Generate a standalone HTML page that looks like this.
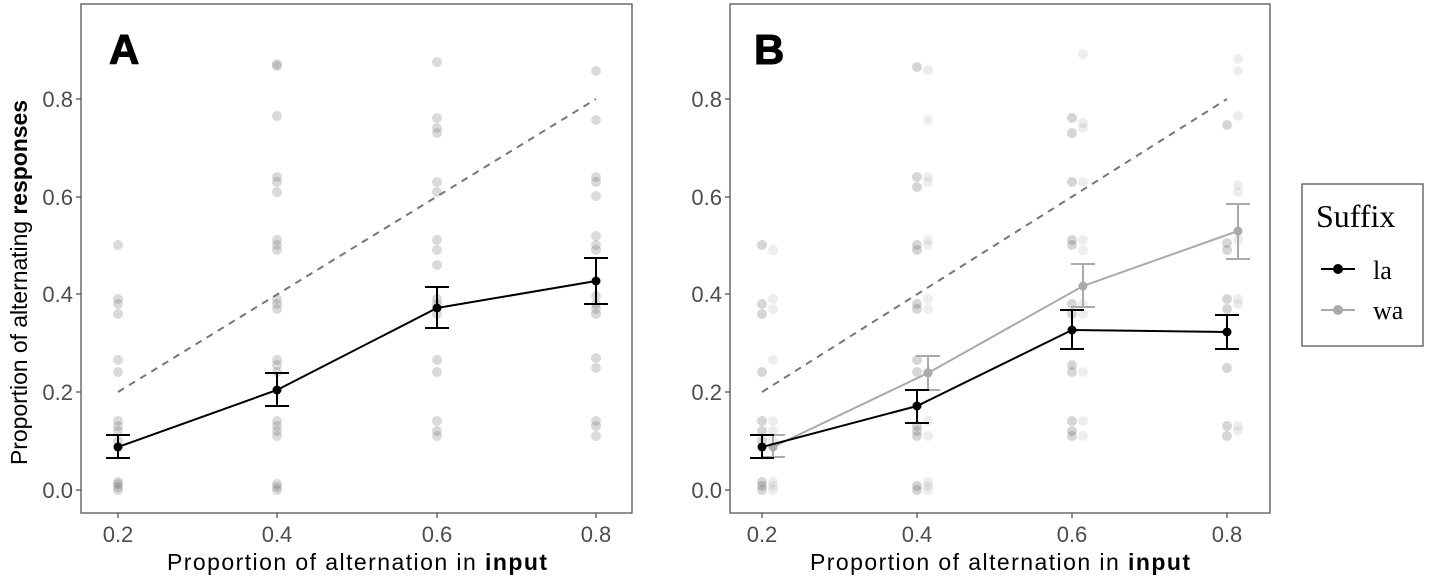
<!DOCTYPE html>
<html><head><meta charset="utf-8"><style>
body{margin:0;background:#fff;}
svg{display:block;font-family:"Liberation Sans",sans-serif;}
</style></head><body>
<svg width="1430" height="579" viewBox="0 0 1430 579" xmlns="http://www.w3.org/2000/svg">
<rect width="1430" height="579" fill="#fff"/>
<!-- Panel A -->
<rect x="81" y="4" width="551" height="509" fill="none" stroke="#555" stroke-width="1.3"/>
<g stroke="#555" stroke-width="1.3">
<line x1="76" y1="490" x2="81" y2="490"/><line x1="76" y1="392" x2="81" y2="392"/><line x1="76" y1="294" x2="81" y2="294"/><line x1="76" y1="197" x2="81" y2="197"/><line x1="76" y1="99" x2="81" y2="99"/>
<line x1="118" y1="513" x2="118" y2="518"/><line x1="277" y1="513" x2="277" y2="518"/><line x1="437" y1="513" x2="437" y2="518"/><line x1="596" y1="513" x2="596" y2="518"/>
</g>
<g font-size="22" fill="#4d4d4d" text-anchor="end">
<text x="73" y="498">0.0</text><text x="73" y="400">0.2</text><text x="73" y="302">0.4</text><text x="73" y="205">0.6</text><text x="73" y="107">0.8</text>
</g>
<g font-size="22" fill="#4d4d4d" text-anchor="middle">
<text x="118" y="542">0.2</text><text x="277" y="542">0.4</text><text x="437" y="542">0.6</text><text x="596" y="542">0.8</text>
</g>
<text x="167" y="570" font-size="23" fill="#000" textLength="380" lengthAdjust="spacing">Proportion of alternation in   <tspan font-weight="bold">input</tspan></text>
<text transform="translate(27,465) rotate(-90)" font-size="23" fill="#000" textLength="365" lengthAdjust="spacing">Proportion of alternating <tspan font-weight="bold">responses</tspan></text>
<text x="109" y="64" font-size="42" font-weight="bold" fill="#000" stroke="#000" stroke-width="1">A</text>
<g fill="#555" fill-opacity="0.22">
<circle cx="118" cy="490" r="5"/><circle cx="118" cy="487" r="5"/><circle cx="118" cy="484" r="5"/><circle cx="118" cy="482" r="5"/>
<circle cx="118" cy="441" r="5"/><circle cx="118" cy="431" r="5"/><circle cx="118" cy="426" r="5"/><circle cx="118" cy="421" r="5"/>
<circle cx="118" cy="372" r="5"/><circle cx="118" cy="360" r="5"/><circle cx="118" cy="314" r="5"/><circle cx="118" cy="304" r="5"/><circle cx="118" cy="299" r="5"/><circle cx="118" cy="245" r="5"/>
<circle cx="277" cy="490" r="5"/><circle cx="277" cy="487" r="5"/><circle cx="277" cy="484" r="5"/><circle cx="277" cy="436" r="5"/><circle cx="277" cy="431" r="5"/><circle cx="277" cy="426" r="5"/><circle cx="277" cy="421" r="5"/>
<circle cx="277" cy="372" r="5"/><circle cx="277" cy="365" r="5"/><circle cx="277" cy="360" r="5"/><circle cx="277" cy="309" r="5"/><circle cx="277" cy="304" r="5"/><circle cx="277" cy="299" r="5"/>
<circle cx="277" cy="250" r="5"/><circle cx="277" cy="245" r="5"/><circle cx="277" cy="240" r="5"/><circle cx="277" cy="192" r="5"/><circle cx="277" cy="182" r="5"/><circle cx="277" cy="177" r="5"/><circle cx="277" cy="116" r="5"/><circle cx="277" cy="66" r="5"/><circle cx="277" cy="64" r="5"/>
<circle cx="437" cy="436" r="5"/><circle cx="437" cy="431" r="5"/><circle cx="437" cy="421" r="5"/><circle cx="437" cy="372" r="5"/><circle cx="437" cy="360" r="5"/>
<circle cx="437" cy="314" r="5"/><circle cx="437" cy="304" r="5"/><circle cx="437" cy="299" r="5"/><circle cx="437" cy="265" r="5"/><circle cx="437" cy="250" r="5"/><circle cx="437" cy="240" r="5"/>
<circle cx="437" cy="192" r="5"/><circle cx="437" cy="182" r="5"/><circle cx="437" cy="133" r="5"/><circle cx="437" cy="128" r="5"/><circle cx="437" cy="118" r="5"/><circle cx="437" cy="62" r="5"/>
<circle cx="596" cy="436" r="5"/><circle cx="596" cy="426" r="5"/><circle cx="596" cy="421" r="5"/><circle cx="596" cy="368" r="5"/><circle cx="596" cy="358" r="5"/>
<circle cx="596" cy="314" r="5"/><circle cx="596" cy="309" r="5"/><circle cx="596" cy="304" r="5"/><circle cx="596" cy="296" r="5"/><circle cx="596" cy="250" r="5"/><circle cx="596" cy="245" r="5"/><circle cx="596" cy="236" r="5"/>
<circle cx="596" cy="196" r="5"/><circle cx="596" cy="182" r="5"/><circle cx="596" cy="177" r="5"/><circle cx="596" cy="120" r="5"/><circle cx="596" cy="71" r="5"/>
</g>
<line x1="118" y1="392" x2="596" y2="99" stroke="#777" stroke-width="2" stroke-dasharray="7,6"/>
<g stroke="#000" stroke-width="2" fill="none">
<polyline points="118,447 277,390 437,308 596,281"/>
<line x1="118" y1="458" x2="118" y2="435"/><line x1="106" y1="458" x2="130" y2="458"/><line x1="106" y1="435" x2="130" y2="435"/>
<line x1="277" y1="406" x2="277" y2="373"/><line x1="265" y1="406" x2="289" y2="406"/><line x1="265" y1="373" x2="289" y2="373"/>
<line x1="437" y1="328" x2="437" y2="287"/><line x1="425" y1="328" x2="449" y2="328"/><line x1="425" y1="287" x2="449" y2="287"/>
<line x1="596" y1="304" x2="596" y2="258"/><line x1="584" y1="304" x2="608" y2="304"/><line x1="584" y1="258" x2="608" y2="258"/>
</g>
<g fill="#000"><circle cx="118" cy="447" r="4.5"/><circle cx="277" cy="390" r="4.5"/><circle cx="437" cy="308" r="4.5"/><circle cx="596" cy="281" r="4.5"/></g>

<!-- Panel B -->
<rect x="730" y="4" width="540" height="509" fill="none" stroke="#555" stroke-width="1.3"/>
<g stroke="#555" stroke-width="1.3">
<line x1="725" y1="490" x2="730" y2="490"/><line x1="725" y1="392" x2="730" y2="392"/><line x1="725" y1="294" x2="730" y2="294"/><line x1="725" y1="197" x2="730" y2="197"/><line x1="725" y1="99" x2="730" y2="99"/>
<line x1="762" y1="513" x2="762" y2="518"/><line x1="917" y1="513" x2="917" y2="518"/><line x1="1072" y1="513" x2="1072" y2="518"/><line x1="1227" y1="513" x2="1227" y2="518"/>
</g>
<g font-size="22" fill="#4d4d4d" text-anchor="end">
<text x="722" y="498">0.0</text><text x="722" y="400">0.2</text><text x="722" y="302">0.4</text><text x="722" y="205">0.6</text><text x="722" y="107">0.8</text>
</g>
<g font-size="22" fill="#4d4d4d" text-anchor="middle">
<text x="762" y="542">0.2</text><text x="917" y="542">0.4</text><text x="1072" y="542">0.6</text><text x="1227" y="542">0.8</text>
</g>
<text x="810" y="570" font-size="23" fill="#000" textLength="380" lengthAdjust="spacing">Proportion of alternation in   <tspan font-weight="bold">input</tspan></text>
<text x="754" y="64" font-size="42" font-weight="bold" fill="#000" stroke="#000" stroke-width="1">B</text>
<g fill="#333" fill-opacity="0.2">
<circle cx="762" cy="490" r="5"/><circle cx="762" cy="486" r="5"/><circle cx="762" cy="482" r="5"/><circle cx="762" cy="441" r="5"/><circle cx="762" cy="431" r="5"/><circle cx="762" cy="421" r="5"/>
<circle cx="762" cy="372" r="5"/><circle cx="762" cy="314" r="5"/><circle cx="762" cy="304" r="5"/><circle cx="762" cy="245" r="5"/>
<circle cx="917" cy="490" r="5"/><circle cx="917" cy="486" r="5"/><circle cx="917" cy="436" r="5"/><circle cx="917" cy="431" r="5"/><circle cx="917" cy="426" r="5"/>
<circle cx="917" cy="372" r="5"/><circle cx="917" cy="360" r="5"/><circle cx="917" cy="309" r="5"/><circle cx="917" cy="304" r="5"/><circle cx="917" cy="250" r="5"/><circle cx="917" cy="245" r="5"/><circle cx="917" cy="187" r="5"/><circle cx="917" cy="177" r="5"/><circle cx="917" cy="67" r="5"/>
<circle cx="1072" cy="436" r="5"/><circle cx="1072" cy="431" r="5"/><circle cx="1072" cy="421" r="5"/><circle cx="1072" cy="372" r="5"/><circle cx="1072" cy="365" r="5"/><circle cx="1072" cy="314" r="5"/><circle cx="1072" cy="304" r="5"/><circle cx="1072" cy="245" r="5"/><circle cx="1072" cy="240" r="5"/><circle cx="1072" cy="182" r="5"/><circle cx="1072" cy="133" r="5"/><circle cx="1072" cy="118" r="5"/>
<circle cx="1227" cy="436" r="5"/><circle cx="1227" cy="426" r="5"/><circle cx="1227" cy="368" r="5"/><circle cx="1227" cy="309" r="5"/><circle cx="1227" cy="299" r="5"/><circle cx="1227" cy="250" r="5"/><circle cx="1227" cy="243" r="5"/><circle cx="1227" cy="125" r="5"/>
</g>
<g fill="#999" fill-opacity="0.18">
<circle cx="773" cy="490" r="5"/><circle cx="773" cy="486" r="5"/><circle cx="773" cy="482" r="5"/><circle cx="773" cy="441" r="5"/><circle cx="773" cy="431" r="5"/><circle cx="773" cy="421" r="5"/><circle cx="773" cy="360" r="5"/><circle cx="773" cy="309" r="5"/><circle cx="773" cy="299" r="5"/><circle cx="773" cy="250" r="5"/>
<circle cx="928" cy="490" r="5"/><circle cx="928" cy="486" r="5"/><circle cx="928" cy="482" r="5"/><circle cx="928" cy="436" r="5"/><circle cx="928" cy="421" r="5"/><circle cx="928" cy="372" r="5"/><circle cx="928" cy="309" r="5"/><circle cx="928" cy="299" r="5"/><circle cx="928" cy="245" r="5"/><circle cx="928" cy="240" r="5"/><circle cx="928" cy="182" r="5"/><circle cx="928" cy="177" r="5"/><circle cx="928" cy="120" r="5"/><circle cx="928" cy="70" r="5"/>
<circle cx="1083" cy="436" r="5"/><circle cx="1083" cy="421" r="5"/><circle cx="1083" cy="372" r="5"/><circle cx="1083" cy="314" r="5"/><circle cx="1083" cy="304" r="5"/><circle cx="1083" cy="250" r="5"/><circle cx="1083" cy="240" r="5"/><circle cx="1083" cy="182" r="5"/><circle cx="1083" cy="128" r="5"/><circle cx="1083" cy="123" r="5"/><circle cx="1083" cy="54" r="5"/>
<circle cx="1238" cy="431" r="5"/><circle cx="1238" cy="426" r="5"/><circle cx="1238" cy="304" r="5"/><circle cx="1238" cy="299" r="5"/><circle cx="1238" cy="240" r="5"/><circle cx="1238" cy="192" r="5"/><circle cx="1238" cy="185" r="5"/><circle cx="1238" cy="116" r="5"/><circle cx="1238" cy="71" r="5"/><circle cx="1238" cy="59" r="5"/>
</g>
<line x1="762" y1="392" x2="1227" y2="99" stroke="#777" stroke-width="2" stroke-dasharray="7,6"/>
<g stroke="#aaa" stroke-width="2" fill="none">
<polyline points="773,447 928,373 1083,286 1238,231"/>
<line x1="773" y1="457" x2="773" y2="435"/><line x1="761" y1="457" x2="785" y2="457"/><line x1="761" y1="435" x2="785" y2="435"/>
<line x1="928" y1="390" x2="928" y2="356"/><line x1="916" y1="390" x2="940" y2="390"/><line x1="916" y1="356" x2="940" y2="356"/>
<line x1="1083" y1="307" x2="1083" y2="264"/><line x1="1071" y1="307" x2="1095" y2="307"/><line x1="1071" y1="264" x2="1095" y2="264"/>
<line x1="1238" y1="259" x2="1238" y2="204"/><line x1="1226" y1="259" x2="1250" y2="259"/><line x1="1226" y1="204" x2="1250" y2="204"/>
</g>
<g fill="#aaa"><circle cx="773" cy="447" r="4.5"/><circle cx="928" cy="373" r="4.5"/><circle cx="1083" cy="286" r="4.5"/><circle cx="1238" cy="231" r="4.5"/></g>
<g stroke="#000" stroke-width="2" fill="none">
<polyline points="762,447 917,406 1072,330 1227,332"/>
<line x1="762" y1="458" x2="762" y2="435"/><line x1="750" y1="458" x2="774" y2="458"/><line x1="750" y1="435" x2="774" y2="435"/>
<line x1="917" y1="423" x2="917" y2="390"/><line x1="905" y1="423" x2="929" y2="423"/><line x1="905" y1="390" x2="929" y2="390"/>
<line x1="1072" y1="349" x2="1072" y2="310"/><line x1="1060" y1="349" x2="1084" y2="349"/><line x1="1060" y1="310" x2="1084" y2="310"/>
<line x1="1227" y1="349" x2="1227" y2="315"/><line x1="1215" y1="349" x2="1239" y2="349"/><line x1="1215" y1="315" x2="1239" y2="315"/>
</g>
<g fill="#000"><circle cx="762" cy="447" r="4.5"/><circle cx="917" cy="406" r="4.5"/><circle cx="1072" cy="330" r="4.5"/><circle cx="1227" cy="332" r="4.5"/></g>

<!-- Legend -->
<rect x="1302" y="184" width="121" height="162" fill="#fff" stroke="#555" stroke-width="1.3"/>
<text x="1316" y="227" font-family="Liberation Serif, serif" font-size="32" fill="#000">Suffix</text>
<line x1="1321" y1="269" x2="1355" y2="269" stroke="#000" stroke-width="2"/><circle cx="1338" cy="269" r="5" fill="#000"/>
<text x="1373" y="279" font-family="Liberation Serif, serif" font-size="26" fill="#000">la</text>
<line x1="1321" y1="310" x2="1355" y2="310" stroke="#aaa" stroke-width="2"/><circle cx="1338" cy="310" r="5" fill="#aaa"/>
<text x="1373" y="319" font-family="Liberation Serif, serif" font-size="26" fill="#000">wa</text>
</svg>
</body></html>
